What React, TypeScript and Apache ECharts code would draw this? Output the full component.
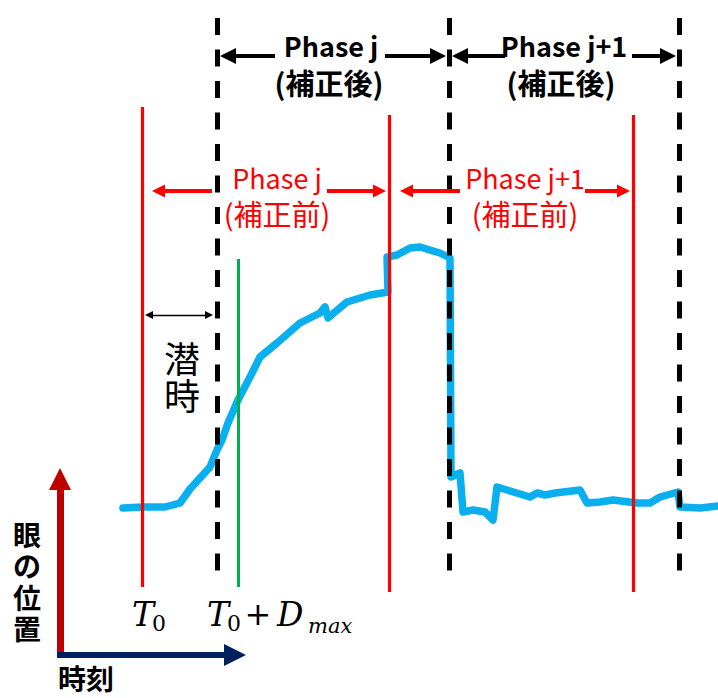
import { useEffect, useRef } from "react";
import * as echarts from "echarts";

// Eye-position trace: time (x) and position (y), one unit per screen pixel.
const traceTime = [
  123, 143, 165, 180, 190, 200, 210, 217, 222, 228, 238, 250, 260, 277, 300, 320, 325, 328, 335, 347,
  370, 388, 387, 397, 410, 420, 440, 450, 451, 460, 463, 473, 485, 493, 497, 507, 530, 537, 545, 555,
  580, 587, 600, 613, 637, 650, 660, 678, 680, 700, 718,
];
const tracePos = [
  190, 191, 191, 195, 209, 220, 231, 248, 258, 275, 298, 321, 341, 355, 375, 385, 391, 380, 386, 396,
  403, 406, 441, 443, 450, 451, 445, 440, 221, 225, 186, 188, 186, 178, 211, 208, 201, 205, 203, 205,
  208, 195, 196, 198, 195, 195, 201, 206, 191, 190, 192,
];

// Phase boundaries before correction (red) and after correction (dashed black).
const rawBoundTime = [142, 389, 633];
const rawBoundTop = [591, 583, 583];
const rawBoundBottom = [111, 106, 106];
const fixedBoundTime = [217, 449, 679];
const fixedBoundTop = 680;
const fixedBoundBottom = 123;

// T0 + Dmax marker (green).
const dmaxTime = 238;
const dmaxTop = 439;
const dmaxBottom = 111;

// Phase span arrows: [tip, tail] pairs.
const fixedArrowPos = 642;
const fixedArrows = [
  [220, 275],
  [446, 385],
  [452, 505],
  [676, 632],
];
const rawArrowPos = 507;
const rawArrows = [
  [152, 212],
  [386, 327],
  [400, 460],
  [630, 585],
];
// Latency (潜時) double arrow.
const latencyPos = 383;
const latencyFrom = 145;
const latencyTo = 213;

// Axis arrows (position / time).
const axisOrigin = [60, 43];
const axisPosTip = 230;
const axisTimeTip = 246;

// Vertical axis caption, one character per row.
const posCaption = ["眼", "の", "位", "置"];

const W = 718;
const H = 698;

type Pt = { coord: number[]; symbol?: string; symbolSize?: number[]; lineStyle?: any };

function seg(a: number[], b: number[], lineStyle: any, symA = "none", symB = "none", size?: number[]): Pt[] {
  const p: Pt = { coord: a, symbol: symA, lineStyle };
  const q: Pt = { coord: b, symbol: symB };
  if (size) {
    p.symbolSize = size;
    q.symbolSize = size;
  }
  return [p, q];
}

// Horizontal arrow whose head tip lands at tipX.
function hArrow(tipX: number, tailX: number, y: number, color: string, width: number, head: number[]): Pt[] {
  const dir = Math.sign(tipX - tailX);
  const end = tipX - (dir * head[1]) / 2;
  return seg([tailX, y], [end, y], { color, width, type: "solid" }, "none", "triangle", head);
}

export default function App() {
  const ref = useRef<HTMLDivElement>(null);

  useEffect(() => {
    document.body.style.margin = "0";
    if (!ref.current) return;
    const chart = echarts.init(ref.current, undefined, { renderer: "svg" });

    const marks: Pt[][] = [];
    // red axis arrow first, navy over it
    marks.push(
      seg(axisOrigin, [axisOrigin[0], axisPosTip - 11], { color: "#C00000", width: 7, type: "solid" }, "none", "triangle", [22, 22])
    );
    marks.push(
      seg([axisOrigin[0] - 3, axisOrigin[1]], [axisTimeTip - 11, axisOrigin[1]], { color: "#002060", width: 6, type: "solid" }, "none", "triangle", [22, 22])
    );
    rawBoundTime.forEach((t, i) => {
      marks.push(seg([t, rawBoundTop[i]], [t, rawBoundBottom[i]], { color: "#FF0000", width: 3.2, type: "solid" }));
    });
    marks.push(seg([dmaxTime, dmaxTop], [dmaxTime, dmaxBottom], { color: "#00B050", width: 3, type: "solid" }));
    fixedBoundTime.forEach((t) => {
      marks.push(
        seg([t, fixedBoundTop], [t, fixedBoundBottom], { color: "#000000", width: 5, type: [17, 14.5] })
      );
    });
    fixedArrows.forEach(([tip, tail]) => marks.push(hArrow(tip, tail, fixedArrowPos, "#000000", 4, [16, 16])));
    rawArrows.forEach(([tip, tail]) => marks.push(hArrow(tip, tail, rawArrowPos, "#FF0000", 4, [13, 13])));
    marks.push(
      seg([latencyFrom + 4, latencyPos], [latencyTo - 4, latencyPos], { color: "#000000", width: 1.3, type: "solid" }, "triangle", "triangle", [8, 8])
    );

    const cjk = '"Noto Sans CJK JP", "Noto Sans", sans-serif';
    const serif = '"DejaVu Serif", "Liberation Serif", serif';
    const txt = (x: number, y: number, text: string, size: number, color: string, weight = "normal", align = "center", family = cjk, style = "normal") => ({
      type: "text",
      x,
      y,
      silent: true,
      z: 10,
      style: {
        text,
        fill: color,
        fontSize: size,
        fontWeight: weight,
        fontFamily: family,
        fontStyle: style,
        align,
        verticalAlign: "middle",
        textAlign: align,
        textVerticalAlign: "middle",
      },
    });

    chart.setOption({
      animation: false,
      backgroundColor: "#ffffff",
      grid: { left: 0, right: 0, top: 0, bottom: 0, containLabel: false },
      xAxis: { type: "value", min: 0, max: W, show: false, splitLine: { show: false } },
      yAxis: { type: "value", min: 0, max: H, show: false, splitLine: { show: false } },
      series: [
        {
          type: "line",
          z: 2,
          data: traceTime.map((t, i) => [t, tracePos[i]]),
          symbol: "none",
          lineStyle: { color: "#0AAFEF", width: 7.5, join: "round", cap: "round" },
          silent: true,
        },
        {
          type: "line",
          z: 3,
          data: [],
          symbol: "none",
          silent: true,
          markLine: {
            silent: true,
            animation: false,
            symbol: "none",
            label: { show: false },
            emphasis: { disabled: true },
            data: marks,
          },
        },
      ],
      graphic: [
        txt(331, 45, "Phase j", 27, "#000000", "bold"),
        txt(329, 82, "(補正後)", 29, "#000000", "bold"),
        txt(564, 45, "Phase j+1", 27, "#000000", "bold"),
        txt(561, 82, "(補正後)", 29, "#000000", "bold"),
        txt(277, 177, "Phase j", 27, "#FF0000"),
        txt(277, 213, "(補正前)", 29, "#FF0000"),
        txt(525, 177, "Phase j+1", 27, "#FF0000"),
        txt(525, 213, "(補正前)", 29, "#FF0000"),
        txt(182, 357, "潜", 36, "#000000"),
        txt(182, 394, "時", 36, "#000000"),
        ...posCaption.map((ch, i) => txt(27, 534 + i * 31.3, ch, 28, "#000000", "bold")),
        txt(86, 678, "時刻", 28, "#000000", "bold"),
        txt(132, 614, "T", 33, "#000000", "normal", "left", serif, "italic"),
        txt(152, 623, "0", 22, "#000000", "normal", "left", serif),
        txt(207, 614, "T", 33, "#000000", "normal", "left", serif, "italic"),
        txt(227, 623, "0", 22, "#000000", "normal", "left", serif),
        txt(258, 614, "+", 32, "#000000", "normal", "center", serif),
        txt(277, 614, "D", 33, "#000000", "normal", "left", serif, "italic"),
        txt(308, 626, "max", 21, "#000000", "normal", "left", serif, "italic"),
      ],
    });

    return () => chart.dispose();
  }, []);

  return <div ref={ref} style={{ width: W, height: H }} />;
}
